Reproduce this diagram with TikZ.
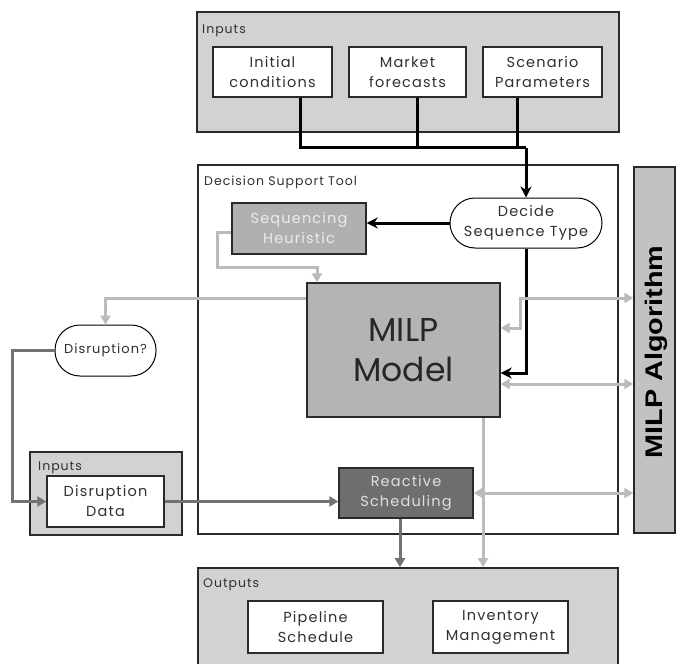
\documentclass[tikz,border=0pt]{standalone}
\usepackage{fontspec}
\setmainfont{Poppins}[LetterSpace=8]
\newfontfamily\algfont{Liberation Sans}[Scale=1]
\newfontfamily\bigfont{Poppins}[LetterSpace=0]
\usetikzlibrary{arrows.meta}
\definecolor{cfill}{HTML}{D2D2D2}
\definecolor{cdark}{HTML}{2A2A2A}
\definecolor{ctext}{HTML}{303030}
\definecolor{cmilp}{HTML}{B4B4B4}
\definecolor{calg}{HTML}{C2C2C2}
\definecolor{cheur}{HTML}{B0B0B0}
\definecolor{creac}{HTML}{6E6E6E}
\definecolor{cl}{HTML}{BBBBBB}
\definecolor{cd}{HTML}{727272}
\begin{document}
\begin{tikzpicture}[x=1pt,y=-1pt,
  every node/.style={inner sep=0pt},
  cont/.style={draw=cdark, line width=1.6pt, fill=cfill},
  ibox/.style={draw=cdark, line width=1.4pt, fill=white, minimum height=50pt, align=center, font=\fontsize{14.5}{20}\selectfont, text=ctext},
  lab/.style={font=\fontsize{12.5}{14}\selectfont, text=ctext, anchor=west},
  stad/.style={draw=black, line width=1pt, rounded corners=25pt, fill=white, minimum height=50pt, align=center, font=\fontsize{14.5}{20}\selectfont, text=ctext},
  blk/.style={line width=3pt, black},
  lg/.style={line width=3pt, cl},
  dg/.style={line width=3pt, cd},
  btip/.style={-{Stealth[length=11pt,width=11pt]}},
  gtip/.style={-{Triangle[length=9pt,width=10pt]}},
  gtips/.style={{Triangle[length=9pt,width=10pt]}-{Triangle[length=9pt,width=10pt]}},
]
\useasboundingbox (0,0) rectangle (676,663);

% containers
\node[cont, minimum width=422pt, minimum height=120pt] (inTop) at (408,72) {};
\node[lab] (inTopL) at (202,31) {Inputs};
\node[draw=cdark, line width=1.4pt, fill=white, minimum width=420pt, minimum height=369pt] (dst) at (408,349.5) {};
\node[lab] (dstL) at (204,182) {Decision Support Tool};
\node[cont, minimum width=420pt, minimum height=104pt] (outB) at (408,620) {};
\node[lab] (outBL) at (203,585) {Outputs};
\node[cont, minimum width=152pt, minimum height=83pt] (inSm) at (106,493.5) {};
\node[lab] (inSmL) at (38,468) {Inputs};
\node[draw=cdark, line width=1.4pt, fill=calg, minimum width=41pt, minimum height=366pt] (alg) at (654.5,350) {};
\node[rotate=90, font=\algfont\bfseries\fontsize{24}{26}\selectfont, text=black] (algT) at (656,352) {\scalebox{1.2}[1]{MILP Algorithm}};

% input boxes
\node[ibox, minimum width=119pt] (ic) at (272.5,72) {Initial\\conditions};
\node[ibox, minimum width=117pt] (mf) at (407.5,72) {Market\\forecasts};
\node[ibox, minimum width=119pt] (sp) at (542.5,72) {Scenario\\Parameters};

% tool
\node[stad, minimum width=152pt] (dec) at (526,223) {Decide\\Sequence Type};
\node[ibox, fill=cheur, text=white!92!black, minimum width=134pt, minimum height=51pt] (sh) at (299,228.5) {Sequencing\\Heuristic};
\node[ibox, fill=cmilp, text=black!85, minimum width=193pt, minimum height=134pt, font=\bigfont\fontsize{33}{40}\selectfont] (milp) at (403.5,350) {MILP\\Model};
\node[ibox, fill=creac, text=white!88!black, minimum width=134pt] (rs) at (406,493) {Reactive\\Scheduling};

% disruption side
\node[stad, minimum width=101pt, minimum height=51pt, font=\fontsize{13}{18}\selectfont] (dis) at (105.5,350.5) {Disruption?};
\node[ibox, minimum width=117pt, minimum height=51pt] (dd) at (105.5,501.5) {Disruption\\Data};

% outputs
\node[ibox, minimum width=135pt, minimum height=52pt] (ps) at (315.5,627) {Pipeline\\Schedule};
\node[ibox, minimum width=135pt, minimum height=52pt] (im) at (500.5,627) {Inventory\\Management};

% black connectors
\coordinate (j) at (526,148);
\draw[blk] ([xshift=27.5pt]ic.south) |- (j);
\draw[blk] ([xshift=9.5pt]mf.south) -- ([xshift=9.5pt]mf.south |- j);
\draw[blk] ([xshift=-25.5pt]sp.south) -- ([xshift=-25.5pt]sp.south |- j);
\draw[blk, btip] (j) -- (dec.north);
\draw[blk, btip] (dec.west) -- (dec.west -| sh.east);
\draw[blk, btip] (dec.south) |- ([yshift=-23pt]milp.east);

% light gray connectors
\coordinate (shb) at (317,267);
\draw[lg, gtip] ([yshift=-4pt]sh.west) -- ++(-14,0) |- (shb) -- (shb |- milp.north);
\draw[lg, gtip] ([yshift=52pt]milp.west) -| (dis.north);
\coordinate (mk) at (520,328);
\draw[lg, gtips] ([yshift=52pt]alg.west) -| (mk) -- (mk -| milp.east);
\draw[lg, gtips] ([yshift=-34pt]milp.east) -- ([yshift=-34pt]alg.west);
\draw[lg, gtips] (rs.east) -- (rs.east -| alg.west);
\draw[lg, gtip] ([xshift=79.5pt]milp.south) -- ([xshift=79.5pt]milp.south |- outB.north);

% dark gray connectors
\draw[dg, gtip] ([xshift=-6pt]rs.south) -- ([xshift=-6pt]rs.south |- outB.north);
\draw[dg, gtip] (dis.west) -- ++(-42,0) |- (dd.west);
\draw[dg, gtip] (dd.east) -- (dd.east -| rs.west);
\end{tikzpicture}
\end{document}
